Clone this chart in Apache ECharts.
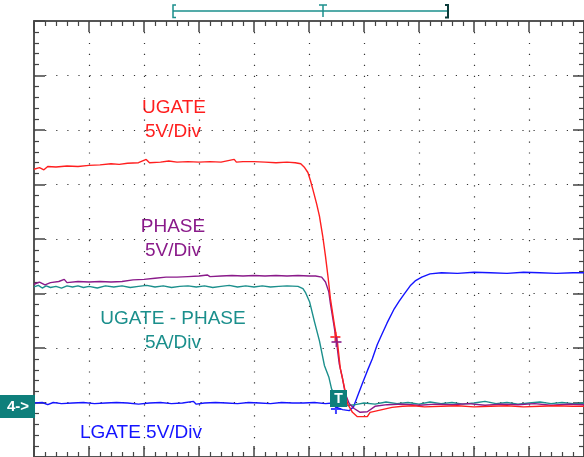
<!DOCTYPE html>
<html>
<head>
<meta charset="utf-8">
<script src="https://cdn.jsdelivr.net/npm/echarts@6/dist/echarts.min.js"></script>
<style>
  html, body { margin: 0; padding: 0; background: #fff; }
  #chart { width: 584px; height: 457px; }
</style>
</head>
<body>
<div id="chart"></div>
<script>
// screen divisions: time -5..5 (10 div), amplitude -4..4 (8 div)
const ugate = [
  [-5.00, 1.28], [-4.90, 1.31], [-4.82, 1.27], [-4.75, 1.33], [-4.60, 1.32], [-4.40, 1.34],
  [-4.20, 1.33], [-4.00, 1.35], [-3.80, 1.36], [-3.60, 1.38], [-3.45, 1.37], [-3.30, 1.39],
  [-3.10, 1.40], [-2.96, 1.46], [-2.90, 1.40], [-2.70, 1.41], [-2.55, 1.43], [-2.40, 1.41],
  [-2.20, 1.42], [-2.00, 1.41], [-1.80, 1.42], [-1.60, 1.41], [-1.36, 1.46], [-1.32, 1.41],
  [-1.20, 1.42], [-1.00, 1.42], [-0.80, 1.41], [-0.60, 1.40], [-0.40, 1.41], [-0.25, 1.40],
  [-0.15, 1.38], [-0.08, 1.31], [-0.02, 1.22], [0.03, 1.06], [0.07, 0.91], [0.14, 0.64],
  [0.19, 0.42], [0.25, 0.05], [0.30, -0.32], [0.35, -0.73], [0.39, -1.10], [0.46, -1.56],
  [0.52, -1.92], [0.57, -2.38], [0.66, -2.80], [0.70, -3.02], [0.79, -3.18], [0.88, -3.26],
  [1.06, -3.26], [1.11, -3.18], [1.33, -3.13], [1.51, -3.09], [1.70, -3.07], [1.90, -3.06],
  [2.10, -3.08], [2.40, -3.07], [2.70, -3.06], [3.00, -3.08], [3.30, -3.07], [3.60, -3.06],
  [3.90, -3.08], [4.20, -3.07], [4.50, -3.06], [4.80, -3.07], [5.00, -3.07]
]
const phase = [
  [-5.00, -0.83], [-4.90, -0.79], [-4.80, -0.84], [-4.70, -0.80], [-4.55, -0.78], [-4.45, -0.74],
  [-4.40, -0.80], [-4.20, -0.78], [-4.00, -0.79], [-3.80, -0.78], [-3.60, -0.79], [-3.40, -0.78],
  [-3.20, -0.75], [-3.00, -0.74], [-2.80, -0.72], [-2.60, -0.70], [-2.40, -0.70], [-2.20, -0.69],
  [-2.00, -0.68], [-1.85, -0.66], [-1.80, -0.69], [-1.60, -0.68], [-1.40, -0.67], [-1.20, -0.68],
  [-1.00, -0.67], [-0.80, -0.68], [-0.60, -0.67], [-0.40, -0.68], [-0.20, -0.67], [0.00, -0.68],
  [0.12, -0.68], [0.23, -0.70], [0.30, -0.79], [0.36, -0.97], [0.39, -1.19], [0.45, -1.56],
  [0.50, -1.89], [0.55, -2.29], [0.61, -2.56], [0.66, -2.84], [0.73, -3.02], [0.82, -3.11],
  [0.93, -3.18], [1.06, -3.17], [1.20, -3.07], [1.42, -3.04], [1.70, -3.03], [2.00, -3.05],
  [2.30, -3.03], [2.60, -3.04], [2.90, -3.02], [3.20, -3.05], [3.50, -3.03], [3.80, -3.04],
  [4.10, -3.02], [4.40, -3.05], [4.70, -3.03], [5.00, -3.04]
]
const current = [
  [-5.00, -0.88], [-4.92, -0.85], [-4.85, -0.90], [-4.78, -0.86], [-4.70, -0.89], [-4.60, -0.87],
  [-4.50, -0.90], [-4.40, -0.86], [-4.30, -0.88], [-4.20, -0.86], [-4.10, -0.89], [-4.00, -0.87],
  [-3.85, -0.90], [-3.70, -0.86], [-3.55, -0.88], [-3.40, -0.86], [-3.25, -0.89], [-3.10, -0.87],
  [-2.95, -0.85], [-2.80, -0.88], [-2.65, -0.86], [-2.50, -0.89], [-2.35, -0.87], [-2.20, -0.86],
  [-2.05, -0.88], [-1.90, -0.86], [-1.75, -0.89], [-1.60, -0.87], [-1.45, -0.85], [-1.30, -0.88],
  [-1.15, -0.86], [-1.00, -0.88], [-0.85, -0.86], [-0.70, -0.88], [-0.55, -0.87], [-0.40, -0.86],
  [-0.20, -0.87], [-0.11, -0.91], [-0.06, -0.99], [0.01, -1.15], [0.10, -1.52], [0.19, -1.87],
  [0.28, -2.32], [0.36, -2.53], [0.41, -2.75], [0.48, -2.89], [0.59, -3.00], [0.66, -3.06],
  [0.84, -3.04], [1.00, -3.01], [1.20, -3.03], [1.40, -2.99], [1.60, -3.02], [1.80, -3.00],
  [2.00, -3.03], [2.20, -2.99], [2.40, -3.02], [2.60, -3.00], [2.80, -3.03], [3.00, -3.01],
  [3.20, -2.98], [3.40, -3.02], [3.60, -3.00], [3.80, -3.03], [4.00, -3.01], [4.20, -2.99],
  [4.40, -3.02], [4.60, -3.00], [4.80, -3.02], [5.00, -3.01]
]
const lgate = [
  [-5.00, -3.01], [-4.85, -3.00], [-4.75, -3.04], [-4.65, -3.00], [-4.50, -3.02], [-4.30, -3.01],
  [-4.10, -3.00], [-3.90, -3.02], [-3.70, -3.01], [-3.50, -3.00], [-3.30, -3.01], [-3.10, -3.03],
  [-2.90, -3.01], [-2.70, -3.00], [-2.50, -3.02], [-2.30, -3.01], [-2.10, -2.98], [-2.05, -3.03],
  [-1.90, -3.01], [-1.70, -3.00], [-1.50, -3.01], [-1.30, -3.02], [-1.10, -3.00], [-0.90, -3.01],
  [-0.70, -3.02], [-0.50, -3.00], [-0.30, -3.01], [-0.10, -3.01], [0.10, -3.00], [0.30, -3.02],
  [0.43, -3.01], [0.48, -3.08], [0.61, -3.13], [0.73, -3.15], [0.81, -3.08], [0.88, -2.89],
  [0.97, -2.65], [1.06, -2.42], [1.15, -2.20], [1.24, -1.94], [1.33, -1.74], [1.42, -1.54],
  [1.55, -1.28], [1.64, -1.14], [1.73, -1.01], [1.84, -0.86], [1.93, -0.77], [2.05, -0.70],
  [2.20, -0.64], [2.41, -0.62], [2.70, -0.63], [3.00, -0.61], [3.30, -0.62], [3.60, -0.63],
  [3.90, -0.61], [4.20, -0.62], [4.50, -0.63], [4.80, -0.62], [5.00, -0.62]
]
// cursor crosses on the traces
const ugateMark = [[0.48, -1.80]]
const phaseMark = [[0.50, -1.89]]
const lgateMark = [[0.49, -3.12]]

const RED = '#ff1f1f'
const PURPLE = '#8a1a8a'
const TEAL = '#1b8f8c'
const BLUE = '#1414ff'
const crossPath = 'path://M0,5H10M5,0V10'

const chart = echarts.init(document.getElementById('chart'))

function frameAxis(pos, withSplit, dash) {
  return {
    type: 'value',
    position: pos,
    min: pos === 'top' || pos === 'bottom' ? -5 : -4,
    max: pos === 'top' || pos === 'bottom' ? 5 : 4,
    interval: 1,
    axisLine: { show: true, onZero: false, lineStyle: { color: '#555', width: 2 } },
    axisTick: { show: true, inside: true, length: 11, lineStyle: { color: '#444', width: 1.5 } },
    minorTick: { show: true, splitNumber: 5, length: 5, lineStyle: { color: '#444', width: 1.2 } },
    axisLabel: { show: false },
    splitLine: {
      show: withSplit,
      lineStyle: { color: '#333', width: 1.2, type: dash }
    }
  }
}

function trace(data, color, z) {
  return {
    type: 'line',
    data: data,
    showSymbol: false,
    symbol: 'none',
    z: z,
    lineStyle: { color: color, width: 1.4 }
  }
}

function mark(data, color) {
  return {
    type: 'scatter',
    data: data,
    symbol: crossPath,
    symbolSize: [10, 10],
    z: 10,
    itemStyle: { color: 'none', borderColor: color, borderWidth: 2 }
  }
}

const labelFont = 'Liberation Sans, Arial, sans-serif'
function label(x, y, text, color) {
  return {
    type: 'text',
    x: x,
    y: y,
    style: {
      text: text,
      fill: color,
      font: '19px ' + labelFont,
      align: 'center',
      verticalAlign: 'middle'
    }
  }
}

chart.setOption({
  animation: false,
  backgroundColor: '#fff',
  grid: { left: 34, top: 21, width: 554, height: 438, containLabel: false },
  xAxis: [
    frameAxis('bottom', true, [1.2, 9.75]),
    frameAxis('top', false, 'solid')
  ],
  yAxis: [
    frameAxis('left', true, [1.2, 9.9]),
    frameAxis('right', false, 'solid')
  ],
  series: [
    trace(lgate, BLUE, 2),
    trace(current, TEAL, 3),
    trace(phase, PURPLE, 4),
    trace(ugate, RED, 5),
    mark(ugateMark, RED),
    mark(phaseMark, PURPLE),
    mark(lgateMark, BLUE)
  ],
  graphic: [
    label(174, 108, 'UGATE', RED),
    label(173, 132, '5V/Div', RED),
    label(173, 227, 'PHASE', PURPLE),
    label(173, 251, '5V/Div', PURPLE),
    label(173, 319, 'UGATE - PHASE', TEAL),
    label(173, 343, '5A/Div', TEAL),
    label(141, 433, 'LGATE 5V/Div', BLUE),
    // channel 4 ground marker
    { type: 'rect', shape: { x: 0, y: 395, width: 35, height: 23 }, style: { fill: '#0e7f7b' }, z: 20 },
    {
      type: 'text', x: 18, y: 407, z: 21,
      style: { text: '4->', fill: '#fff', font: 'bold 15px ' + labelFont, align: 'center', verticalAlign: 'middle' }
    },
    // trigger marker
    { type: 'rect', shape: { x: 330, y: 390, width: 17, height: 17 }, style: { fill: '#0e7f7b' }, z: 20 },
    {
      type: 'text', x: 338.5, y: 399, z: 21,
      style: { text: 'T', fill: '#fff', font: 'bold 14px ' + labelFont, align: 'center', verticalAlign: 'middle' }
    },
    // top time bracket
    { type: 'line', shape: { x1: 173, y1: 11, x2: 448, y2: 11 }, style: { stroke: TEAL, lineWidth: 1.5 } },
    { type: 'polyline', shape: { points: [[176, 5], [173, 5], [173, 17.5], [176, 17.5]] }, style: { stroke: TEAL, lineWidth: 1.5, fill: null } },
    { type: 'polyline', shape: { points: [[445, 5], [448, 5], [448, 17.5], [445, 17.5]] }, style: { stroke: '#0b3b3a', lineWidth: 2, fill: null } },
    { type: 'line', shape: { x1: 319, y1: 5, x2: 327, y2: 5 }, style: { stroke: TEAL, lineWidth: 1.5 } },
    { type: 'line', shape: { x1: 323, y1: 5, x2: 323, y2: 17 }, style: { stroke: TEAL, lineWidth: 1.5 } }
  ]
})
</script>
</body>
</html>
